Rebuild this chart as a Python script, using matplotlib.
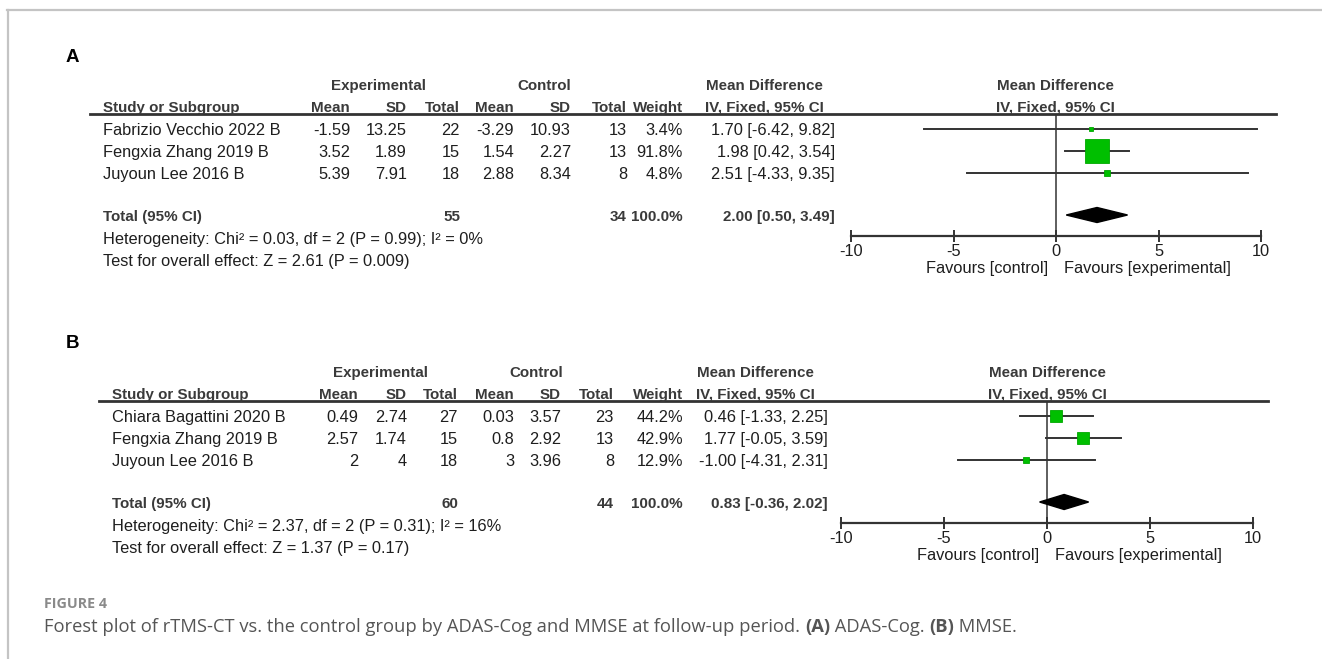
import numpy as np
from matplotlib import pyplot as plt

W, H = 1322, 659

# panel A : ADAS-Cog
studies_a = ["Fabrizio Vecchio 2022 B", "Fengxia Zhang 2019 B", "Juyoun Lee 2016 B"]
exp_mean_a = ["-1.59", "3.52", "5.39"]
exp_sd_a = ["13.25", "1.89", "7.91"]
exp_n_a = [22, 15, 18]
ctl_mean_a = ["-3.29", "1.54", "2.88"]
ctl_sd_a = ["10.93", "2.27", "8.34"]
ctl_n_a = [13, 13, 8]
weight_a = [3.4, 91.8, 4.8]
md_a = [1.70, 1.98, 2.51]
lo_a = [-6.42, 0.42, -4.33]
hi_a = [9.82, 3.54, 9.35]
total_a = (55, 34, 2.00, 0.50, 3.49)
het_a = "Heterogeneity: Chi\u00b2 = 0.03, df = 2 (P = 0.99); I\u00b2 = 0%"
test_a = "Test for overall effect: Z = 2.61 (P = 0.009)"

# panel B : MMSE
studies_b = ["Chiara Bagattini 2020 B", "Fengxia Zhang 2019 B", "Juyoun Lee 2016 B"]
exp_mean_b = ["0.49", "2.57", "2"]
exp_sd_b = ["2.74", "1.74", "4"]
exp_n_b = [27, 15, 18]
ctl_mean_b = ["0.03", "0.8", "3"]
ctl_sd_b = ["3.57", "2.92", "3.96"]
ctl_n_b = [23, 13, 8]
weight_b = [44.2, 42.9, 12.9]
md_b = [0.46, 1.77, -1.00]
lo_b = [-1.33, -0.05, -4.31]
hi_b = [2.25, 3.59, 2.31]
total_b = (60, 44, 0.83, -0.36, 2.02)
het_b = "Heterogeneity: Chi\u00b2 = 2.37, df = 2 (P = 0.31); I\u00b2 = 16%"
test_b = "Test for overall effect: Z = 1.37 (P = 0.17)"

ticks = [-10, -5, 0, 5, 10]

FONT = "Liberation Sans"
FS = 11.8
FSB = 10.9
HEAD = "#3a3a3a"
BODY = "#1e1e1e"

fig = plt.figure(figsize=(W / 100, H / 100), dpi=100)
bg = fig.add_axes([0, 0, 1, 1])
bg.set_xlim(0, W)
bg.set_ylim(H, 0)
bg.axis("off")

# frame
bg.plot([7, W], [10, 10], color="#c4c4c4", lw=1.6)
bg.plot([8, 8], [10, H], color="#c4c4c4", lw=1.6)


def txt(x, y, s, ha="left", bold=False, color=BODY):
    # y is the vertical centre of capital letters
    size = FSB if bold else FS
    bg.text(x, y + 5.9, s, ha=ha, va="baseline", fontsize=size, family=FONT,
            fontweight="bold" if bold else "normal", color=color)


def panel(letter, y0, cols, xs, studies, em, es, en, cm, cs, cn, w, md, lo, hi,
          total, het, test, fx, sq_k):
    # y0 : centre of the first header row
    name_x, c_mean, c_sd, c_tot, k_mean, k_sd, k_tot, c_w, c_ci = cols
    exp_c, ctl_c, md_c, plot_c = xs
    bg.text(66, y0 - 27, letter, fontsize=13.5, fontweight="bold", family=FONT,
            va="center", color="black")
    txt(exp_c, y0, "Experimental", ha="center", bold=True, color=HEAD)
    txt(ctl_c, y0, "Control", ha="center", bold=True, color=HEAD)
    txt(md_c, y0, "Mean Difference", ha="center", bold=True, color=HEAD)
    txt(plot_c, y0, "Mean Difference", ha="center", bold=True, color=HEAD)
    y1 = y0 + 22
    txt(name_x, y1, "Study or Subgroup", bold=True, color=HEAD)
    for x, s in zip([c_mean, c_sd, c_tot, k_mean, k_sd, k_tot, c_w],
                    ["Mean", "SD", "Total", "Mean", "SD", "Total", "Weight"]):
        txt(x, y1, s, ha="right", bold=True, color=HEAD)
    txt(md_c, y1, "IV, Fixed, 95% CI", ha="center", bold=True, color=HEAD)
    txt(plot_c, y1, "IV, Fixed, 95% CI", ha="center", bold=True, color=HEAD)
    line_y = y1 + 8
    bg.plot([name_x - 13, fx[1] + 15], [line_y, line_y], color="#333333", lw=2)

    rows = [line_y + 15 + 22 * i for i in range(len(studies))]
    for i, y in enumerate(rows):
        txt(name_x, y, studies[i])
        txt(c_mean, y, em[i], ha="right")
        txt(c_sd, y, es[i], ha="right")
        txt(c_tot, y, str(en[i]), ha="right")
        txt(k_mean, y, cm[i], ha="right")
        txt(k_sd, y, cs[i], ha="right")
        txt(k_tot, y, str(cn[i]), ha="right")
        txt(c_w, y, f"{w[i]:.1f}%", ha="right")
        txt(c_ci, y, f"{md[i]:.2f} [{lo[i]:.2f}, {hi[i]:.2f}]", ha="right")
    ty = rows[-1] + 42
    txt(name_x, ty, "Total (95% CI)", bold=True, color=HEAD)
    txt(c_tot, ty, str(total[0]), ha="right", bold=True, color=HEAD)
    txt(k_tot, ty, str(total[1]), ha="right", bold=True, color=HEAD)
    txt(c_w, ty, "100.0%", ha="right", bold=True, color=HEAD)
    txt(c_ci, ty, f"{total[2]:.2f} [{total[3]:.2f}, {total[4]:.2f}]",
        ha="right", bold=True, color=HEAD)
    txt(name_x, ty + 23, het)
    txt(name_x, ty + 45, test)

    # forest part
    axis_y = ty + 21
    ax = fig.add_axes([fx[0] / W, 1 - axis_y / H, (fx[1] - fx[0]) / W,
                       (axis_y - line_y) / H])
    ax.set_xlim(-10, 10)
    ax.set_ylim(axis_y, line_y)
    ax.patch.set_alpha(0)
    for s in ["top", "right", "left"]:
        ax.spines[s].set_visible(False)
    ax.spines["bottom"].set_linewidth(1.6)
    ax.spines["bottom"].set_color("#333333")
    ax.set_yticks([])
    ax.set_xticks(ticks)
    ax.set_xticklabels([str(t) for t in ticks], family=FONT, fontsize=FS,
                       color=BODY)
    ax.tick_params(axis="x", direction="inout", length=9, width=1.4,
                   color="#333333", pad=1.5)
    ax.axvline(0, color="#333333", lw=1.1, zorder=1)
    for i, y in enumerate(rows):
        ax.plot([lo[i], hi[i]], [y, y], color="#333333", lw=1.4, zorder=2)
        side = sq_k * np.sqrt(w[i])
        ax.plot(md[i], y, marker="s", markersize=side * 0.72, color="#00bf00",
                mec="#00a800", mew=0.6, zorder=3)
    ax.fill([total[3], total[2], total[4], total[2]],
            [ty, ty - 7.5, ty, ty + 7.5], color="black", zorder=3)
    fav_y = axis_y + 33
    zx = fx[0] + (fx[1] - fx[0]) / 2
    txt(zx - 8, fav_y - 2, "Favours [control]", ha="right")
    txt(zx + 8, fav_y - 2, "Favours [experimental]")


panel("A", 84, (103, 350, 407, 460, 514, 571, 627, 683, 835),
      (378, 544, 764, 1055),
      studies_a, exp_mean_a, exp_sd_a, exp_n_a, ctl_mean_a, ctl_sd_a, ctl_n_a,
      weight_a, md_a, lo_a, hi_a, total_a, het_a, test_a, (851, 1261), 2.5)
panel("B", 371, (112, 358, 407, 458, 514, 561, 614, 683, 828),
      (381, 536, 755, 1047),
      studies_b, exp_mean_b, exp_sd_b, exp_n_b, ctl_mean_b, ctl_sd_b, ctl_n_b,
      weight_b, md_b, lo_b, hi_b, total_b, het_b, test_b, (841, 1253), 1.73)

# caption
bg.text(44, 608, "FIGURE 4", family="Open Sans", fontsize=10.3,
        fontweight="bold", color="#8a8a8a", va="baseline")
cap = [("Forest plot of rTMS-CT vs. the control group by ADAS-Cog and MMSE at "
        "follow-up period. ", "normal"), ("(A)", "bold"), (" ADAS-Cog. ", "normal"),
       ("(B)", "bold"), (" MMSE.", "normal")]
prev = None
for s, wt in cap:
    if prev is None:
        prev = bg.text(44, 632, s, family="Open Sans", fontsize=13.2,
                       fontweight=wt, color="#555555", va="baseline")
    else:
        prev = bg.annotate(s, xy=(1, 0), xycoords=prev, va="bottom",
                           family="Open Sans", fontsize=13.2, fontweight=wt,
                           color="#555555")

fig.savefig("out.png", dpi=100)
